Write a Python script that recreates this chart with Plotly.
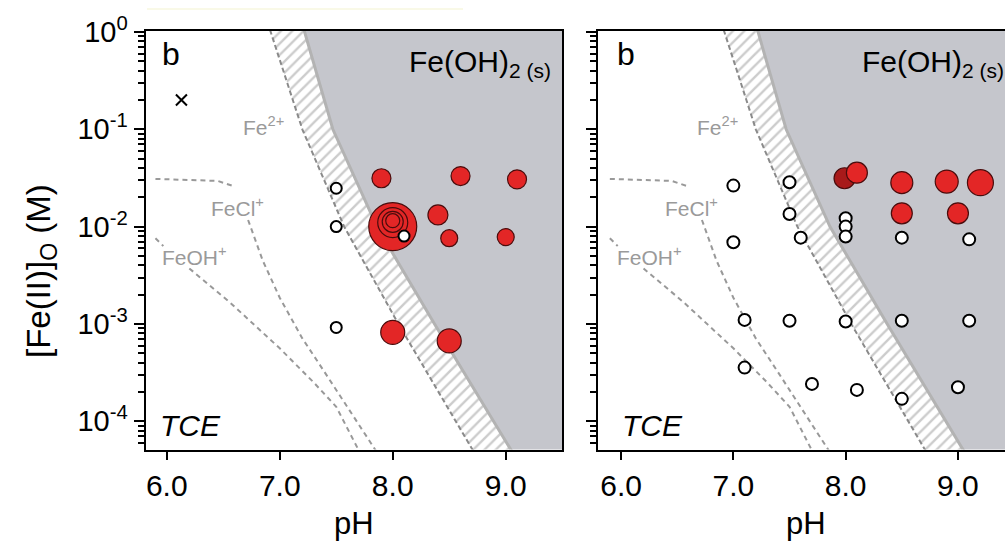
import plotly.graph_objects as go

# ---------------- data ----------------
# Fe(OH)2(s) solubility band: [Fe(II)] (M) vs pH of its two edges
band_conc = [1.26, 1.0, 0.1, 0.01, 1e-3, 5e-5, 4e-5]
band_left_ph = [6.89, 6.92, 7.20, 7.57, 8.05, 8.71, 8.76]
band_right_ph = [7.195, 7.22, 7.47, 7.86, 8.37, 9.05, 9.10]

# FeCl+ boundary (dashed) - None marks the gap behind the label
fecl_ph = [5.90, 6.45, 6.58, None, 6.72, 6.85, 7.00, 7.20, 7.40, 7.60, 7.85]
fecl_conc = [0.0309, 0.0295, 0.0263, None, 0.0117, 0.00447, 0.00186, 0.00071, 0.000316, 0.000141, 0.00005]

# FeOH+ boundary (dashed)
feoh_ph = [5.90, 5.97, None, 6.20, 6.56, 7.00, 7.30, 7.50, 7.70]
feoh_conc = [0.00759, 0.00631, None, 0.00372, 0.00166, 0.000562, 0.000251, 0.000141, 0.00005]

# left panel
left_red_ph = [8.00, 8.00, 8.00, 8.00, 7.90, 8.60, 9.10, 8.40, 8.50, 9.00, 8.00, 8.50]
left_red_conc = [0.0100, 0.0110, 0.0112, 0.0115, 0.0314, 0.0331, 0.0306, 0.0132, 0.0076, 0.0078, 0.00082, 0.00067]
left_red_size = [48, 30, 21, 14, 19, 19, 19, 20, 17, 17, 24, 24]
left_open_ph = [7.5, 7.5, 7.5, 8.1]
left_open_conc = [0.0248, 0.0100, 0.00092, 0.0080]
left_cross_ph = [6.13]
left_cross_conc = [0.2]

# right panel
right_red_ph = [7.99, 8.10, 8.50, 8.90, 9.20, 8.50, 9.00]
right_red_conc = [0.0314, 0.0358, 0.0283, 0.0290, 0.0283, 0.0137, 0.0137]
right_red_size = [21, 21, 22, 23, 26, 21, 21]
right_open_ph = [7.0, 7.5, 7.5, 7.6, 7.0, 8.0, 8.0, 8.0, 8.5, 9.1,
                 7.1, 7.5, 8.0, 8.5, 9.1, 7.1, 7.7, 8.1, 8.5, 9.0]
right_open_conc = [0.0264, 0.0286, 0.0135, 0.0077, 0.0069, 0.0122, 0.0100, 0.0079, 0.0077, 0.0074,
                   0.00110, 0.00108, 0.00106, 0.00108, 0.00108, 0.000356, 0.000242, 0.00021, 0.00017, 0.000224]

x_tickvals = [6, 7, 8, 9]
x_ticktext = ["6.0", "7.0", "8.0", "9.0"]
y_tickvals = [1, 0.1, 0.01, 0.001, 0.0001]
y_ticktext = ["10<sup>0</sup>", "10<sup>-1</sup>", "10<sup>-2</sup>", "10<sup>-3</sup>", "10<sup>-4</sup>"]

# ---------------- styles ----------------
W, H = 1005, 542
FONT = "Arial, Liberation Sans, Helvetica, sans-serif"
GRAY_FILL = "#c5c6cc"
RED = "#e32626"
RED_DARK = "#a81a1a"
RED_EDGE = "#4a0c0c"
LINE_GRAY = "#999999"
LABEL_GRAY = "#9a9a9a"


def px(x):
    return x / W


def py(y):
    return 1 - y / H


fig = go.Figure()


def add_panel(xa, ya, red_ph, red_conc, red_size, red_colors, open_ph, open_conc, open_size):
    xr = "x" if xa == 1 else f"x{xa}"
    yr = "y" if ya == 1 else f"y{ya}"
    # gray Fe(OH)2(s) region
    fig.add_trace(go.Scatter(
        x=band_right_ph + [12, 12], y=band_conc + [band_conc[-1], band_conc[0]],
        fill="toself", fillcolor=GRAY_FILL, line=dict(width=0), mode="lines",
        hoverinfo="skip", showlegend=False, xaxis=xr, yaxis=yr))
    # hatched band
    fig.add_trace(go.Scatter(
        x=band_left_ph + band_right_ph[::-1], y=band_conc + band_conc[::-1],
        fill="toself", fillcolor="white", mode="lines", line=dict(width=0),
        fillpattern=dict(shape="/", fgcolor="#9a9a9a", bgcolor="white", size=8, solidity=0.3),
        hoverinfo="skip", showlegend=False, xaxis=xr, yaxis=yr))
    # band edges
    fig.add_trace(go.Scatter(x=band_right_ph, y=band_conc, mode="lines",
                             line=dict(color="#b3b3b3", width=3),
                             hoverinfo="skip", showlegend=False, xaxis=xr, yaxis=yr))
    fig.add_trace(go.Scatter(x=band_left_ph, y=band_conc, mode="lines",
                             line=dict(color="#8a8a8a", width=2, dash="5px,3px"),
                             hoverinfo="skip", showlegend=False, xaxis=xr, yaxis=yr))
    # species boundaries
    for xs, ys in ((fecl_ph, fecl_conc), (feoh_ph, feoh_conc)):
        fig.add_trace(go.Scatter(x=xs, y=ys, mode="lines", connectgaps=False,
                                 line=dict(color=LINE_GRAY, width=2, dash="5px,4px"),
                                 hoverinfo="skip", showlegend=False, xaxis=xr, yaxis=yr))
    # red points
    fig.add_trace(go.Scatter(x=red_ph, y=red_conc, mode="markers",
                             marker=dict(size=red_size, color=red_colors, opacity=1,
                                         line=dict(color=RED_EDGE, width=1.2)),
                             showlegend=False, xaxis=xr, yaxis=yr))
    # open points
    fig.add_trace(go.Scatter(x=open_ph, y=open_conc, mode="markers",
                             marker=dict(size=open_size, color="white", opacity=1,
                                         line=dict(color="black", width=2)),
                             showlegend=False, xaxis=xr, yaxis=yr))


add_panel(1, 1, left_red_ph, left_red_conc, left_red_size, [RED] * len(left_red_ph),
          left_open_ph, left_open_conc, 11)
fig.add_trace(go.Scatter(x=left_cross_ph, y=left_cross_conc, mode="markers",
                         marker=dict(symbol="x-thin", size=11, line=dict(color="black", width=2)),
                         showlegend=False, xaxis="x", yaxis="y"))
add_panel(2, 2, right_red_ph, right_red_conc, right_red_size,
          [RED_DARK] + [RED] * (len(right_red_ph) - 1),
          right_open_ph, right_open_conc, 12)

minor_vals = [m * 10 ** e for e in range(-5, 0) for m in range(2, 10)]

xcommon = dict(tickvals=x_tickvals, ticktext=x_ticktext, ticks="outside", ticklen=8,
               tickwidth=2, tickcolor="black", showline=True, linewidth=2, linecolor="black",
               mirror=True, showgrid=False, zeroline=False, automargin=False,
               tickfont=dict(size=30, color="black", family=FONT))
ycommon = dict(type="log", range=[-4.29, 0.013], tickvals=y_tickvals, ticktext=y_ticktext,
               ticks="outside", ticklen=10, tickwidth=2, tickcolor="black",
               showline=True, linewidth=2, linecolor="black", showgrid=False, zeroline=False,
               automargin=False,
               minor=dict(ticks="outside", ticklen=6, tickwidth=1.5, tickcolor="black",
                          tickmode="array", tickvals=minor_vals, showgrid=False),
               tickfont=dict(size=29, color="black", family=FONT))

fig.update_layout(
    width=W, height=H, autosize=False,
    margin=dict(l=0, r=0, t=0, b=0, pad=0, autoexpand=False),
    showlegend=False,
    paper_bgcolor="white", plot_bgcolor="white",
    font=dict(family=FONT, color="black"),
    xaxis=dict(domain=[px(145.5), px(562)], range=[5.812, 9.498], anchor="y", **xcommon),
    yaxis=dict(domain=[py(449.5), py(30.7)], anchor="x", mirror=True, **ycommon),
    xaxis2=dict(domain=[px(597.5), 1.0], range=[5.79, 9.419], anchor="y2", **xcommon),
    yaxis2=dict(domain=[py(449.5), py(30.7)], anchor="x2", mirror=False,
                showticklabels=False, **{k: v for k, v in ycommon.items() if k != "tickfont"}),
)


def note(text, x, y, size, color="black", angle=0, xanchor="center", yanchor="middle"):
    return dict(text=text, x=px(x), y=py(y), xref="paper", yref="paper", showarrow=False,
                xanchor=xanchor, yanchor=yanchor, textangle=angle,
                font=dict(size=size, color=color))


ann = []
# axis titles
ann.append(note("pH", 354, 523, 31))
ann.append(note("pH", 806, 523, 31))
ann.append(note("[Fe(II)]<sub>O</sub> (M)", 41, 271, 33, angle=-90))
# panel letters, phase label, TCE
for bx, fx, tx in ((171, 407, 190), (626, 860, 652)):
    ann.append(note("b", bx, 54, 32))
    ann.append(note("Fe(OH)<sub>2 (s)</sub>", fx, 64, 30, xanchor="left"))
    ann.append(note("<i>TCE</i>", tx, 425, 30))
# species labels in data coordinates (log axis -> log10 value)
for xr, yr in (("x", "y"), ("x2", "y2")):
    for txt, lx, ly in (("Fe<sup>2+</sup>", 6.86, -0.97),
                        ("FeCl<sup>+</sup>", 6.63, -1.80),
                        ("FeOH<sup>+</sup>", 6.25, -2.30)):
        ann.append(dict(text=txt, x=lx, y=ly, xref=xr, yref=yr, showarrow=False,
                        xanchor="center", yanchor="middle",
                        font=dict(size=21, color=LABEL_GRAY)))
fig.update_layout(annotations=ann)

# faint line at top of the image
fig.add_shape(type="line", xref="paper", yref="paper", x0=px(147), x1=px(463),
              y0=py(9), y1=py(9), line=dict(color="#f3f3cf", width=1))

fig.write_html("out.html", config={"responsive": False, "displayModeBar": False},
               post_script="document.body.style.margin='0';document.body.style.overflow='hidden';"
                           "document.documentElement.style.overflow='hidden';")
